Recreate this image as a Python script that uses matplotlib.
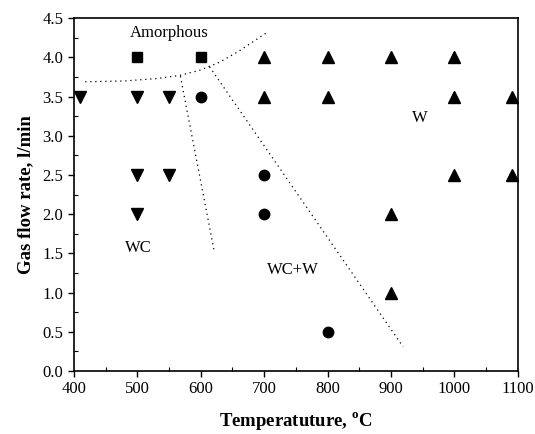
"""
Phase map: gas flow rate vs. temperature (W / WC / WC+W / amorphous)
"""

import matplotlib
matplotlib.use('Agg')
import matplotlib.pyplot as plt
from matplotlib.ticker import MultipleLocator

plt.rcParams['font.family'] = ['Liberation Serif', 'DejaVu Serif']
plt.rcParams['mathtext.fontset'] = 'custom'
plt.rcParams['mathtext.rm'] = 'Liberation Serif'
plt.rcParams['mathtext.bf'] = 'Liberation Serif:bold'

# amorphous (squares)
amorT = [500, 600]
amorQ = [4.0, 4.0]

# WC (down triangles)
wcT = [410, 500, 550, 500, 550, 500]
wcQ = [3.5, 3.5, 3.5, 2.5, 2.5, 2.0]

# WC+W (circles)
mixT = [600, 700, 700, 800]
mixQ = [3.5, 2.5, 2.0, 0.5]

# W (up triangles)
wT = [700, 800, 900, 1000, 700, 800, 1000, 1090, 1000, 1090, 900, 900]
wQ = [4.0, 4.0, 4.0, 4.0, 3.5, 3.5, 3.5, 3.5, 2.5, 2.5, 2.0, 1.0]

# phase boundaries (dotted)
amorLineT = [418, 480, 530, 567, 600, 630, 660, 703]
amorLineQ = [3.69, 3.70, 3.73, 3.77, 3.84, 3.94, 4.08, 4.31]
wcLineT = [568, 621]
wcLineQ = [3.76, 1.54]
wLineT = [614, 919]
wLineQ = [3.88, 0.31]

if __name__ == '__main__':

    fig = plt.figure(figsize=(5.35, 4.34), dpi=100)
    ax = fig.add_axes([0.138, 0.145, 0.830, 0.813])

    ms = dict(color='black', linestyle='none')
    ax.plot(amorT, amorQ, marker='s', markersize=7, **ms)
    ax.plot(wcT, wcQ, marker='v', markersize=8.5, **ms)
    ax.plot(mixT, mixQ, marker='o', markersize=7.5, **ms)
    ax.plot(wT, wQ, marker='^', markersize=8.5, **ms)

    dotted = dict(color='black', lw=0.9, ls=(0, (1, 3)))
    ax.plot(amorLineT, amorLineQ, **dotted)
    ax.plot(wcLineT, wcLineQ, **dotted)
    ax.plot(wLineT, wLineQ, **dotted)

    ax.text(551, 4.31, 'Amorphous', fontsize=12, ha='center', va='center')
    ax.text(946, 3.23, 'W', fontsize=12, ha='center', va='center')
    ax.text(501, 1.57, 'WC', fontsize=12, ha='center', va='center')
    ax.text(745, 1.29, 'WC+W', fontsize=12, ha='center', va='center')

    ax.set_xlim(400, 1100)
    ax.set_ylim(0.0, 4.5)
    ax.xaxis.set_major_locator(MultipleLocator(100))
    ax.xaxis.set_minor_locator(MultipleLocator(50))
    ax.yaxis.set_major_locator(MultipleLocator(0.5))
    ax.yaxis.set_minor_locator(MultipleLocator(0.25))
    ax.yaxis.set_major_formatter(plt.FormatStrFormatter('%.1f'))
    ax.tick_params(which='major', direction='out', length=4, width=1, labelsize=12)
    ax.tick_params(which='minor', direction='in', length=3, width=0.8)
    for sp in ax.spines.values():
        sp.set_linewidth(1.2)

    ax.set_xlabel(r'Temperatuture, $^{\mathbf{o}}$C', fontsize=13.5, fontweight='bold', labelpad=9)
    ax.set_ylabel('Gas flow rate, l/min', fontsize=13.5, fontweight='bold', labelpad=6)

    plt.savefig('out.png', dpi=100)
